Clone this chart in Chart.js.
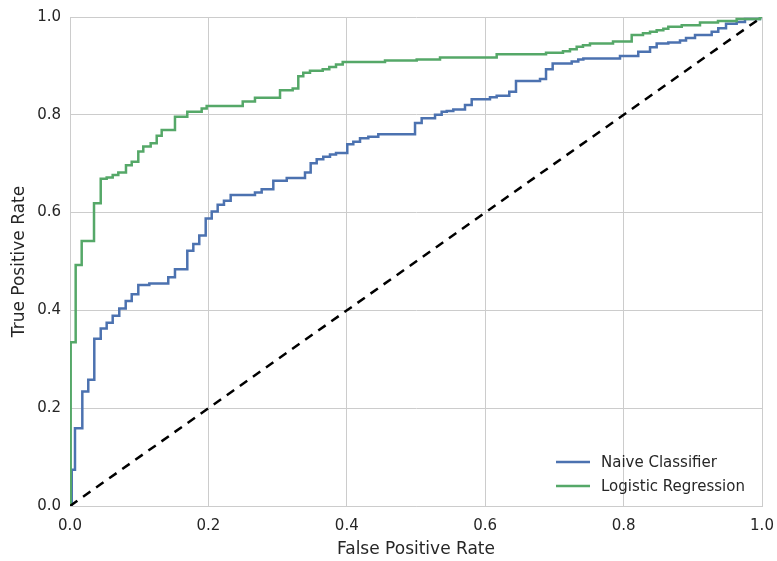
<!DOCTYPE html>
<html>
<head>
<meta charset="utf-8">
<script src="https://cdn.jsdelivr.net/npm/chart.js@4/dist/chart.umd.min.js"></script>
<style>
  html, body { margin: 0; padding: 0; background: #fff; }
  #wrap { width: 777px; height: 561px; }
</style>
</head>
<body>
<div id="wrap"><canvas id="roc"></canvas></div>
<script>
// ROC step corners (fpr, tpr)
const naiveFpr = [0, 0.0025, 0.0072, 0.0178, 0.0264, 0.0351, 0.0444, 0.0530, 0.0617, 0.0712, 0.0805,
    0.0892, 0.0987, 0.1146, 0.1420, 0.1517, 0.1695, 0.1782, 0.1868, 0.1961, 0.2048, 0.2134, 0.2225,
    0.2322, 0.2673, 0.2770, 0.2938, 0.3132, 0.3396, 0.3478, 0.3565, 0.3660, 0.3757, 0.3844, 0.4007,
    0.4094, 0.4191, 0.4311, 0.4455, 0.4986, 0.5082, 0.5275, 0.5371, 0.5444, 0.5539, 0.5708, 0.5805,
    0.6069, 0.6166, 0.6348, 0.6445, 0.6792, 0.6879, 0.6975, 0.7250, 0.7345, 0.7418, 0.7948, 0.8212,
    0.8382, 0.8478, 0.8646, 0.8815, 0.8902, 0.9032, 0.9273, 0.9368, 0.9480, 0.9634, 0.9754, 0.9971, 1.0];
const naiveTpr = [0, 0.074, 0.159, 0.234, 0.258, 0.342, 0.363, 0.375, 0.389, 0.404, 0.419,
    0.433, 0.452, 0.455, 0.468, 0.484, 0.522, 0.536, 0.553, 0.588, 0.602, 0.616, 0.624,
    0.636, 0.641, 0.648, 0.665, 0.671, 0.682, 0.701, 0.709, 0.714, 0.719, 0.722, 0.740,
    0.745, 0.752, 0.755, 0.760, 0.783, 0.793, 0.800, 0.806, 0.808, 0.811, 0.820, 0.832,
    0.836, 0.839, 0.847, 0.869, 0.873, 0.893, 0.905, 0.909, 0.913, 0.915, 0.920, 0.929,
    0.938, 0.946, 0.948, 0.952, 0.957, 0.963, 0.970, 0.977, 0.986, 0.990, 0.996, 1.0, 1.0];

const logitFpr = [0, 0.001, 0.0082, 0.0169, 0.0347, 0.0444, 0.0530, 0.0617, 0.0698, 0.0809, 0.0892,
    0.0987, 0.1059, 0.1166, 0.1253, 0.1325, 0.1517, 0.1695, 0.1903, 0.1975, 0.2496, 0.2673, 0.3035,
    0.3218, 0.3299, 0.3371, 0.3468, 0.3652, 0.3747, 0.3844, 0.3941, 0.4552, 0.5010, 0.5347, 0.6166,
    0.6879, 0.7124, 0.7225, 0.7322, 0.7413, 0.7514, 0.7847, 0.8117, 0.8280, 0.8382, 0.8478, 0.8574,
    0.8646, 0.8840, 0.9104, 0.9364, 0.9634, 0.9971, 1.0];
const logitTpr = [0, 0.335, 0.493, 0.542, 0.619, 0.669, 0.672, 0.677, 0.682, 0.697, 0.704,
    0.725, 0.735, 0.742, 0.757, 0.769, 0.796, 0.806, 0.813, 0.818, 0.827, 0.835, 0.850,
    0.854, 0.879, 0.886, 0.890, 0.893, 0.898, 0.903, 0.908, 0.911, 0.913, 0.917, 0.924,
    0.927, 0.930, 0.934, 0.939, 0.942, 0.946, 0.950, 0.963, 0.967, 0.970, 0.973, 0.976,
    0.980, 0.983, 0.989, 0.992, 0.996, 1.0, 1.0];

const chanceLine = [0, 1];
const seriesNames = ['Naive Classifier', 'Logistic Regression'];
const axisTicks = [0, 0.2, 0.4, 0.6, 0.8, 1.0];

const toPoints = (xs, ys) => xs.map((x, i) => ({ x: x, y: ys[i] }));

const textColor = '#262626';
const gridColor = '#cccccc';
const font = 'DejaVu Sans';

// legend drawn inside the plot, lower right, no frame
const insideLegend = {
    id: 'insideLegend',
    afterDraw(chart) {
        const ctx = chart.ctx;
        const area = chart.chartArea;
        const items = chart.data.datasets.filter(d => d.inLegend);
        ctx.save();
        ctx.font = '15px "' + font + '"';
        ctx.textBaseline = 'middle';
        items.forEach((d, i) => {
            const y = area.bottom - 44 + i * 24;
            const x = area.right - 206;
            ctx.strokeStyle = d.borderColor;
            ctx.lineWidth = 2.5;
            ctx.beginPath();
            ctx.moveTo(x, y);
            ctx.lineTo(x + 34, y);
            ctx.stroke();
            ctx.fillStyle = textColor;
            ctx.fillText(d.label, x + 45, y + 1);
        });
        ctx.restore();
    }
};

new Chart(document.getElementById('roc').getContext('2d'), {
    type: 'line',
    data: {
        datasets: [{
            label: seriesNames[0],
            data: toPoints(naiveFpr, naiveTpr),
            borderColor: '#4C72B0',
            borderWidth: 2.5,
            stepped: 'before',
            pointRadius: 0,
            inLegend: true,
            order: 2
        }, {
            label: seriesNames[1],
            data: toPoints(logitFpr, logitTpr),
            borderColor: '#55A868',
            borderWidth: 2.5,
            stepped: 'before',
            pointRadius: 0,
            inLegend: true,
            order: 1
        }, {
            label: 'chance',
            data: toPoints(chanceLine, chanceLine),
            borderColor: '#000000',
            borderWidth: 2.5,
            borderDash: [9, 7],
            pointRadius: 0,
            inLegend: false,
            order: 0
        }]
    },
    options: {
        responsive: true,
        maintainAspectRatio: false,
        animation: false,
        layout: {
            padding: { left: 0, right: 15, top: 17, bottom: 0 }
        },
        scales: {
            x: {
                type: 'linear',
                min: 0,
                max: 1,
                afterBuildTicks: s => { s.ticks = axisTicks.map(v => ({ value: v })); },
                afterFit: s => { s.height = 55; s.paddingRight = 0; s.paddingLeft = 0; },
                grid: { color: gridColor, lineWidth: 1, drawTicks: false },
                border: { color: gridColor, width: 1 },
                ticks: {
                    color: textColor,
                    padding: 11,
                    font: { family: font, size: 15 },
                    callback: v => v.toFixed(1)
                },
                title: {
                    display: true,
                    text: 'False Positive Rate',
                    color: textColor,
                    font: { family: font, size: 17 },
                    padding: { top: 1, bottom: 1 }
                }
            },
            y: {
                type: 'linear',
                min: 0,
                max: 1,
                afterBuildTicks: s => { s.ticks = axisTicks.map(v => ({ value: v })); },
                afterFit: s => { s.width = 70; s.paddingTop = 0; s.paddingBottom = 0; },
                grid: { color: gridColor, lineWidth: 1, drawTicks: false },
                border: { color: gridColor, width: 1 },
                ticks: {
                    color: textColor,
                    padding: 9,
                    font: { family: font, size: 15 },
                    callback: v => v.toFixed(1)
                },
                title: {
                    display: true,
                    text: 'True Positive Rate',
                    color: textColor,
                    font: { family: font, size: 17 },
                    padding: { top: 9, bottom: 9 }
                }
            }
        },
        plugins: {
            legend: { display: false },
            tooltip: { enabled: false }
        }
    },
    plugins: [insideLegend]
});
</script>
</body>
</html>
